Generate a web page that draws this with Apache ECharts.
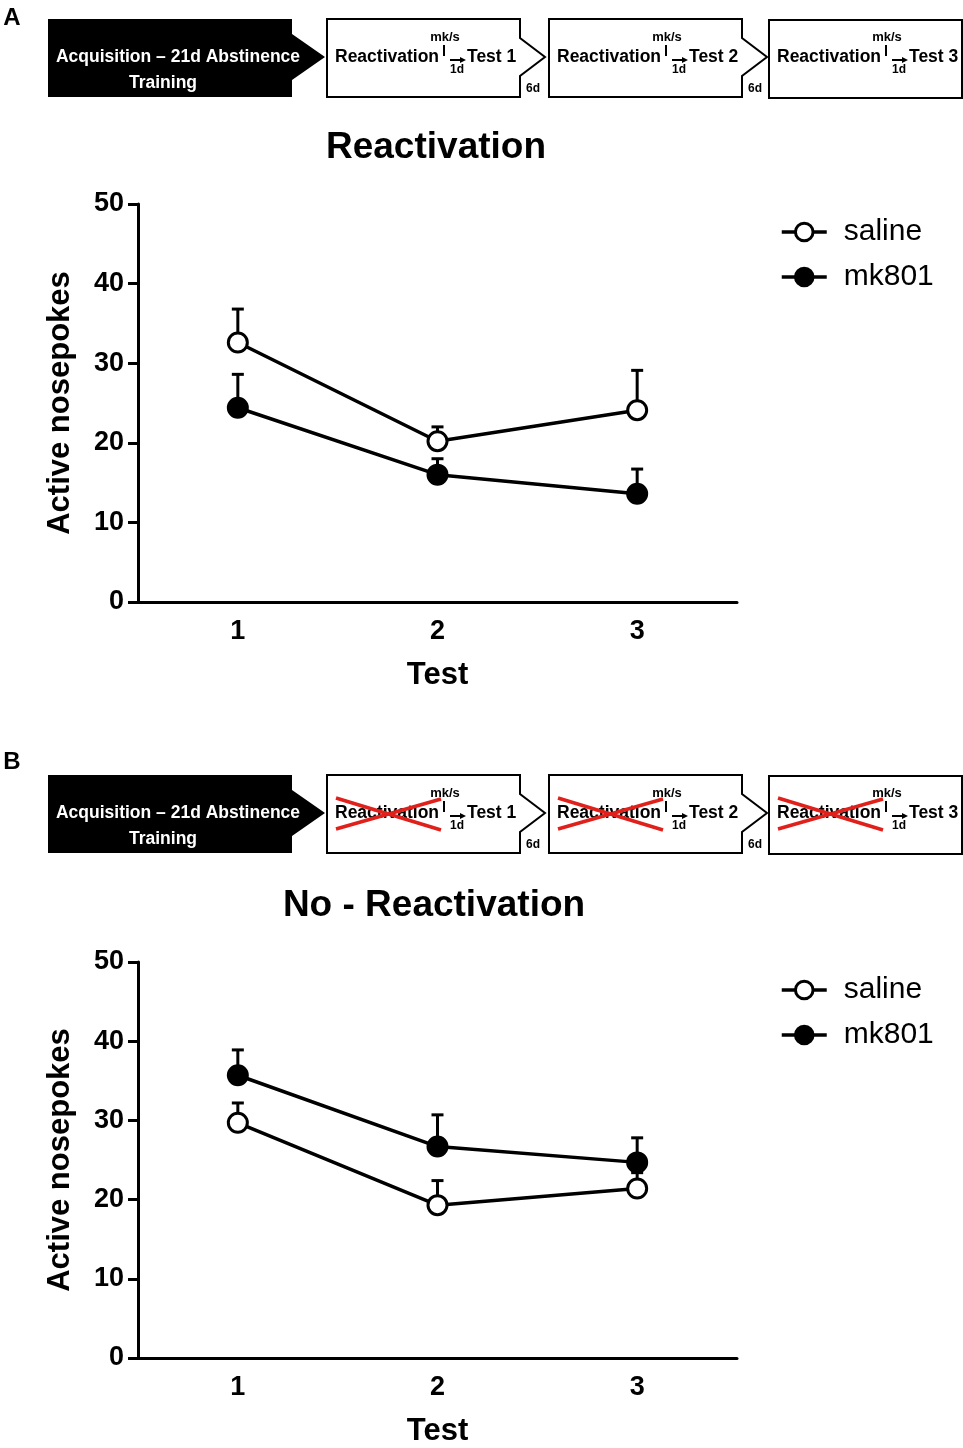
<!DOCTYPE html>
<html>
<head>
<meta charset="utf-8">
<script src="https://cdn.jsdelivr.net/npm/echarts@6/dist/echarts.min.js"></script>
<style>
html,body{margin:0;padding:0;background:#fff;}
#main{width:963px;height:1448px;}
</style>
</head>
<body>
<div id="main"></div>
<script>
// 数据
var tests = ['1', '2', '3'];
var salineA = [32.6, 20.2, 24.1];
var salineAErr = [4.2, 1.8, 5.0];
var mk801A = [24.4, 16.0, 13.6];
var mk801AErr = [4.2, 2.0, 3.1];
var salineB = [29.7, 19.3, 21.4];
var salineBErr = [2.5, 3.1, 2.0];
var mk801B = [35.7, 26.7, 24.7];
var mk801BErr = [3.2, 4.0, 3.1];

var FONT = '"Liberation Sans", Arial, sans-serif';

function errData(vals, errs){
	return vals.map(function(v, i){ return [i, v, v + errs[i]]; });
}

// 误差线 (只画向上的一半)
function errSeries(name, vals, errs, idx){
	return {
		name: name + ' SEM',
		type: 'custom',
		xAxisIndex: idx, yAxisIndex: idx,
		z: 1,
		silent: true,
		encode: {x: 0, y: [1, 2]},
		data: errData(vals, errs),
		renderItem: function(params, api){
			var p0 = api.coord([api.value(0), api.value(1)]);
			var p1 = api.coord([api.value(0), api.value(2)]);
			return {
				type: 'group',
				children: [
					{type: 'line', shape: {x1: p0[0], y1: p0[1], x2: p1[0], y2: p1[1]}, style: {stroke: '#000', lineWidth: 3}},
					{type: 'line', shape: {x1: p1[0] - 6, y1: p1[1], x2: p1[0] + 6, y2: p1[1]}, style: {stroke: '#000', lineWidth: 3}}
				]
			};
		}
	};
}

function lineSeries(name, vals, idx, filled){
	return {
		name: name,
		type: 'line',
		xAxisIndex: idx, yAxisIndex: idx,
		z: 3,
		data: vals,
		symbol: 'circle',
		symbolSize: 19,
		lineStyle: {color: '#000', width: 3.5},
		itemStyle: {color: filled ? '#000' : '#fff', borderColor: '#000', borderWidth: 3},
		emphasis: {disabled: true}
	};
}

function xAxis(idx){
	return {
		type: 'category', gridIndex: idx, data: tests, boundaryGap: true,
		axisLine: {lineStyle: {color: '#000', width: 3}},
		axisTick: {alignWithLabel: true, length: 10, lineStyle: {width: 3}},
		axisLabel: {color: '#000', fontSize: 27, fontWeight: 'bold', fontFamily: FONT, margin: 16},
		name: 'Test', nameLocation: 'middle', nameGap: 58,
		nameTextStyle: {color: '#000', fontSize: 31, fontWeight: 'bold', fontFamily: FONT}
	};
}

function yAxis(idx){
	return {
		type: 'value', gridIndex: idx, min: 0, max: 50, interval: 10,
		splitLine: {show: false},
		axisLine: {show: true, lineStyle: {color: '#000', width: 3}},
		axisTick: {show: true, length: 10, lineStyle: {width: 3}},
		axisLabel: {color: '#000', fontSize: 27, fontWeight: 'bold', fontFamily: FONT, margin: 14},
		name: 'Active nosepokes', nameLocation: 'middle', nameGap: 62,
		nameTextStyle: {color: '#000', fontSize: 31, fontWeight: 'bold', fontFamily: FONT}
	};
}

// 流程示意图
function schematic(top, crossed){
	var els = [];
	var f = 'bold 17.5px ' + FONT;
	els.push({type: 'polygon', shape: {points: [[48, top], [292, top], [292, top + 15], [325, top + 38], [292, top + 61], [292, top + 78], [48, top + 78]]}, style: {fill: '#000'}});
	els.push({type: 'text', style: {text: 'Acquisition \u2013 21d Abstinence', x: 178, y: top + 38, align: 'center', verticalAlign: 'middle', fill: '#fff', font: f}});
	els.push({type: 'text', style: {text: 'Training', x: 163, y: top + 64, align: 'center', verticalAlign: 'middle', fill: '#fff', font: f}});
	var boxes = [327, 549, 769];
	boxes.forEach(function(x0, i){
		var r = x0 + 193;
		if (i < 2) {
			els.push({type: 'polygon', shape: {points: [[x0, top], [r, top], [r, top + 19], [r + 25, top + 38], [r, top + 57], [r, top + 78], [x0, top + 78]]}, style: {fill: '#fff', stroke: '#000', lineWidth: 2}});
			els.push({type: 'text', style: {text: '6d', x: r + 13, y: top + 70, align: 'center', verticalAlign: 'middle', fill: '#000', font: 'bold 12px ' + FONT}});
		} else {
			els.push({type: 'rect', shape: {x: x0, y: top + 1, width: 193, height: 78}, style: {fill: '#fff', stroke: '#000', lineWidth: 2}});
		}
		els.push({type: 'text', style: {text: 'mk/s', x: x0 + 118, y: top + 18, align: 'center', verticalAlign: 'middle', fill: '#000', font: 'bold 13px ' + FONT}});
		els.push({type: 'text', style: {text: 'Reactivation', x: x0 + 8, y: top + 38, align: 'left', verticalAlign: 'middle', fill: '#000', font: f}});
		els.push({type: 'line', shape: {x1: x0 + 117, y1: top + 26, x2: x0 + 117, y2: top + 37}, style: {stroke: '#000', lineWidth: 2}});
		els.push({type: 'line', shape: {x1: x0 + 123, y1: top + 41, x2: x0 + 134, y2: top + 41}, style: {stroke: '#000', lineWidth: 2}});
		els.push({type: 'polygon', shape: {points: [[x0 + 133, top + 38], [x0 + 139, top + 41], [x0 + 133, top + 44]]}, style: {fill: '#000'}});
		els.push({type: 'text', style: {text: 'Test ' + (i + 1), x: x0 + 140, y: top + 38, align: 'left', verticalAlign: 'middle', fill: '#000', font: f}});
		els.push({type: 'text', style: {text: '1d', x: x0 + 130, y: top + 51, align: 'center', verticalAlign: 'middle', fill: '#000', font: 'bold 12px ' + FONT}});
		if (crossed) {
			els.push({type: 'line', z: 10, shape: {x1: x0 + 9, y1: top + 54, x2: x0 + 114, y2: top + 24}, style: {stroke: '#e0201b', lineWidth: 3.5}});
			els.push({type: 'line', z: 10, shape: {x1: x0 + 9, y1: top + 23, x2: x0 + 114, y2: top + 55}, style: {stroke: '#e0201b', lineWidth: 3.5}});
		}
	});
	return els;
}

var graphics = [
	{type: 'text', style: {text: 'A', x: 12, y: 18, align: 'center', verticalAlign: 'middle', fill: '#000', font: 'bold 24px ' + FONT}},
	{type: 'text', style: {text: 'B', x: 12, y: 762, align: 'center', verticalAlign: 'middle', fill: '#000', font: 'bold 24px ' + FONT}}
].concat(schematic(19, false), schematic(775, true));

var legendCommon = {
	orient: 'vertical', left: 775, itemWidth: 45, itemHeight: 22, itemGap: 15,
	data: ['saline', 'mk801'],
	lineStyle: {width: 3.5},
	itemStyle: {borderWidth: 3},
	textStyle: {color: '#000', fontSize: 30, fontFamily: FONT, padding: [0, 0, 0, 12]},
	selectedMode: false
};

var option = {
	animation: false,
	backgroundColor: '#fff',
	title: [
		{text: 'Reactivation', left: 431, top: 124, textAlign: 'center', textStyle: {color: '#000', fontSize: 37, fontWeight: 'bold', fontFamily: FONT}},
		{text: 'No - Reactivation', left: 429, top: 882, textAlign: 'center', textStyle: {color: '#000', fontSize: 37, fontWeight: 'bold', fontFamily: FONT}}
	],
	legend: [
		Object.assign({top: 212}, legendCommon),
		Object.assign({top: 970}, legendCommon)
	],
	grid: [
		{left: 138, top: 204, width: 599, height: 398},
		{left: 138, top: 962, width: 599, height: 397}
	],
	xAxis: [xAxis(0), xAxis(1)],
	yAxis: [yAxis(0), yAxis(1)],
	series: [
		lineSeries('saline', salineA, 0, false),
		lineSeries('mk801', mk801A, 0, true),
		errSeries('saline', salineA, salineAErr, 0),
		errSeries('mk801', mk801A, mk801AErr, 0),
		lineSeries('saline', salineB, 1, false),
		lineSeries('mk801', mk801B, 1, true),
		errSeries('saline', salineB, salineBErr, 1),
		errSeries('mk801', mk801B, mk801BErr, 1)
	],
	graphic: graphics
};

var myChart = echarts.init(document.getElementById('main'));
myChart.setOption(option);
</script>
</body>
</html>
